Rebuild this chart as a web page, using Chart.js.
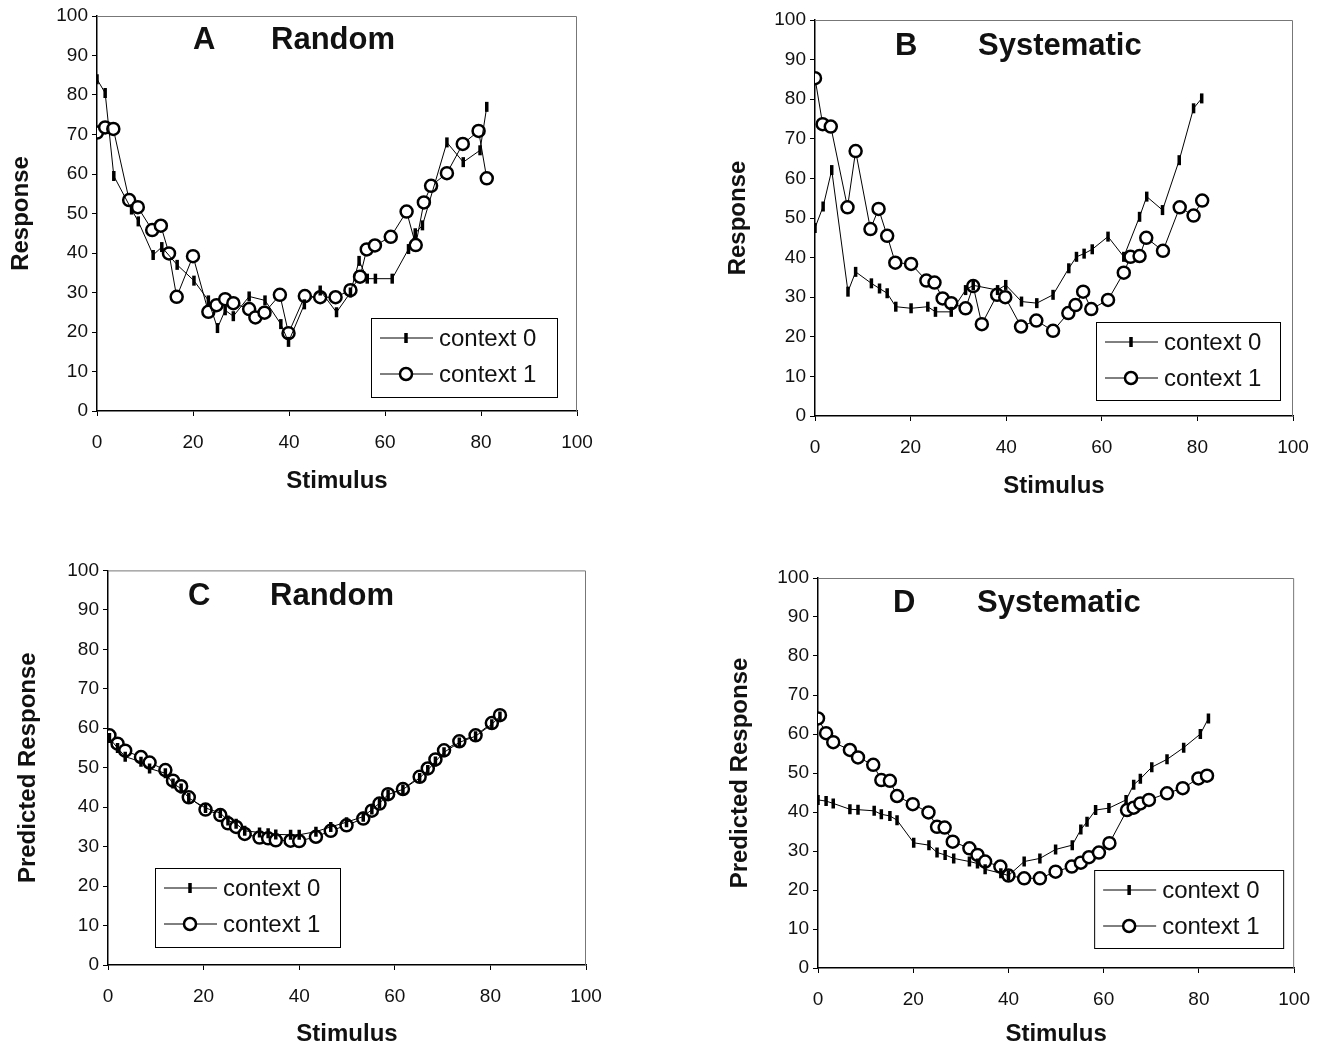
<!DOCTYPE html>
<html>
<head>
<meta charset="utf-8">
<script src="https://cdn.jsdelivr.net/npm/chart.js@4.4.1/dist/chart.umd.min.js"></script>
<style>
  body { margin: 0; background: #fff; }
  .panel { position: absolute; }
</style>
</head>
<body>
<div class="panel" style="left:0px;top:0px"><canvas id="chartA" width="640" height="520"></canvas></div>
<div class="panel" style="left:715px;top:0px"><canvas id="chartB" width="610" height="520"></canvas></div>
<div class="panel" style="left:0px;top:555px"><canvas id="chartC" width="640" height="494"></canvas></div>
<div class="panel" style="left:715px;top:555px"><canvas id="chartD" width="610" height="494"></canvas></div>
<script>
// panel A - Random, observed
const stimA0 = [0, 1.7, 3.5, 7.2, 8.6, 11.7, 13.5, 16.7, 20.2, 23.2, 25.1, 26.7, 28.4, 31.7, 35, 38.3, 39.9, 43.2, 46.5, 49.9, 52.8, 54.6, 56.3, 58, 61.5, 64.9, 66.3, 67.8, 72.9, 76.3, 79.8, 81.2];
const respA0 = [84, 80.5, 59.5, 51, 48, 39.5, 41.5, 37, 33, 28, 21, 25.5, 24, 29, 28, 22, 17.5, 27, 30.5, 25, 30, 38, 33.5, 33.5, 33.5, 41, 45, 47, 68, 63, 66, 77];
const stimA1 = [0, 1.7, 3.4, 6.7, 8.5, 11.5, 13.3, 15, 16.6, 20, 23.2, 24.9, 26.7, 28.4, 31.7, 33, 34.9, 38.1, 39.9, 43.3, 46.5, 49.7, 52.8, 54.8, 56.2, 57.9, 61.2, 64.5, 66.4, 68.1, 69.6, 72.9, 76.2, 79.5, 81.2];
const respA1 = [70.5, 71.8, 71.4, 53.4, 51.6, 45.8, 46.9, 39.9, 28.9, 39.2, 25.1, 26.8, 28.3, 27.3, 25.8, 23.7, 24.9, 29.4, 19.7, 29.1, 28.8, 28.8, 30.6, 34, 40.9, 41.9, 44.1, 50.5, 42, 52.8, 57, 60.2, 67.6, 70.9, 58.9];

// panel B - Systematic, observed
const stimB0 = [0, 1.7, 3.5, 6.9, 8.5, 11.8, 13.5, 15.1, 16.9, 20.1, 23.6, 25.2, 28.5, 31.5, 33.1, 38.2, 39.9, 43.2, 46.4, 49.8, 53.1, 54.7, 56.3, 58, 61.3, 64.6, 67.9, 69.4, 72.7, 76.2, 79.2, 80.9];
const respB0 = [47.5, 52.9, 62.1, 31.4, 36.4, 33.5, 32.2, 31, 27.6, 27.2, 27.6, 26.3, 26.3, 31.8, 33, 31.8, 33.1, 28.9, 28.5, 30.6, 37.3, 40.2, 41, 42.1, 45.3, 40.2, 50.3, 55.4, 52, 64.6, 77.7, 80.2];
const stimB1 = [0, 1.6, 3.3, 6.8, 8.5, 11.6, 13.3, 15.1, 16.8, 20.1, 23.3, 25, 26.7, 28.5, 31.5, 33.1, 34.9, 38.1, 39.8, 43.1, 46.3, 49.8, 53, 54.5, 56.1, 57.8, 61.3, 64.6, 66, 67.9, 69.3, 72.8, 76.3, 79.2, 81];
const respB1 = [85.3, 73.7, 73.1, 52.7, 66.9, 47.2, 52.3, 45.5, 38.7, 38.4, 34.2, 33.7, 29.7, 28.5, 27.2, 32.8, 23.2, 30.6, 30, 22.6, 24.1, 21.5, 26, 28, 31.4, 27, 29.3, 36.2, 40.2, 40.4, 45, 41.7, 52.7, 50.6, 54.4];

// panel C - Random, predicted
const stimC = [0.3, 2, 3.6, 6.9, 8.7, 12, 13.6, 15.3, 16.9, 20.4, 23.5, 25.1, 26.8, 28.6, 31.7, 33.5, 35.1, 38.2, 40, 43.5, 46.6, 49.9, 53.4, 55.2, 56.8, 58.6, 61.7, 65.2, 66.9, 68.5, 70.3, 73.5, 76.9, 80.3, 82];
const respC0 = [57.5, 55, 52.8, 51.5, 49.8, 48.6, 46, 44.7, 42.3, 39.8, 38.5, 36.6, 35.8, 34, 33.6, 33.4, 33.1, 33, 33, 33.8, 35, 36.2, 37.6, 39.4, 41, 43.2, 44.5, 47.4, 49.4, 51.6, 53.9, 56.4, 58, 61, 63];
const respC1 = [58.2, 56.1, 54.3, 52.7, 51.3, 49.4, 46.7, 45.3, 42.5, 39.4, 38, 35.9, 35, 33.2, 32.3, 32.1, 31.6, 31.5, 31.4, 32.5, 34, 35.4, 37.1, 39.1, 40.9, 43.3, 44.6, 47.7, 49.8, 52.1, 54.4, 56.7, 58.2, 61.3, 63.3];

// panel D - Systematic, predicted
const stimD0 = [0, 1.7, 3.2, 6.7, 8.4, 11.8, 13.3, 15.1, 16.6, 20.1, 23.3, 25, 26.7, 28.5, 31.8, 33.5, 35.1, 38.4, 40, 43.3, 46.6, 49.9, 53.4, 55.2, 56.5, 58.3, 61.1, 64.7, 66.3, 67.7, 70.1, 73.3, 76.8, 80.3, 82];
const respD0 = [43.1, 42.8, 42.2, 40.7, 40.6, 40.3, 39.4, 39, 37.9, 32.1, 31.5, 29.6, 29, 28.1, 27.3, 26.8, 25.3, 24.3, 23.7, 27.3, 28.1, 30.4, 31.5, 35.5, 37.5, 40.5, 41, 43.1, 47, 48.5, 51.5, 53.5, 56.5, 60, 64];
const stimD1 = [0, 1.7, 3.2, 6.7, 8.4, 11.6, 13.3, 15.1, 16.6, 19.9, 23.2, 25, 26.6, 28.3, 31.8, 33.5, 35.1, 38.3, 40, 43.3, 46.6, 49.9, 53.3, 55.2, 56.9, 59, 61.2, 64.9, 66.3, 67.7, 69.5, 73.3, 76.6, 79.9, 81.7];
const respD1 = [64, 60.2, 57.9, 55.9, 54, 52.1, 48.2, 48, 44.1, 42, 39.9, 36.2, 36, 32.4, 30.7, 29, 27.3, 26, 23.7, 23, 23, 24.7, 26, 27, 28.4, 29.6, 32, 40.5, 41.1, 42.2, 43.1, 44.8, 46.1, 48.6, 49.3];

const seriesLabels = ['context 0', 'context 1'];
const yTicks = { min: 0, max: 100, step: 10 };
const xTicks = { min: 0, max: 100, step: 20 };

Chart.defaults.font.family = '"Liberation Sans", Arial, sans-serif';
Chart.defaults.color = '#111';

function pts(xs, ys) {
	return xs.map((x, i) => ({ x: x, y: ys[i] }));
}

const barStyle = {
	pointStyle: 'line',
	rotation: 90,
	pointRadius: 5,
	pointBorderWidth: 3.5,
	pointBorderColor: '#000',
	pointBackgroundColor: '#000'
};
const ringStyle = {
	pointStyle: 'circle',
	pointRadius: 6,
	pointBorderWidth: 2.5,
	pointBorderColor: '#000',
	pointBackgroundColor: '#fff'
};

// big letter + condition name inside the plot area
const panelTitle = {
	id: 'panelTitle',
	afterDatasetsDraw(chart, args, opts) {
		const ctx = chart.ctx, a = chart.chartArea;
		ctx.save();
		ctx.font = 'bold 31px "Liberation Sans", Arial, sans-serif';
		ctx.fillStyle = '#111';
		ctx.textBaseline = 'middle';
		ctx.textAlign = 'left';
		ctx.fillText(opts.letter, a.left + opts.letterDx, a.top + opts.dy);
		ctx.fillText(opts.name, a.left + opts.nameDx, a.top + opts.dy);
		ctx.restore();
	}
};

// thin grey frame on top/right of the plot area
const frame = {
	id: 'frame',
	beforeDatasetsDraw(chart) {
		const ctx = chart.ctx, a = chart.chartArea;
		ctx.save();
		ctx.strokeStyle = '#777';
		ctx.lineWidth = 1;
		ctx.beginPath();
		ctx.moveTo(a.left, a.top + 0.5);
		ctx.lineTo(a.right - 0.5, a.top + 0.5);
		ctx.lineTo(a.right - 0.5, a.bottom);
		ctx.stroke();
		ctx.restore();
	}
};

// boxed legend drawn inside the plot area
const legendBox = {
	id: 'legendBox',
	afterDraw(chart, args, opts) {
		const ctx = chart.ctx, a = chart.chartArea;
		const w = opts.w, h = opts.h;
		const left = opts.left !== undefined ? a.left + opts.left : a.right - opts.right - w;
		const top = a.bottom - opts.bottom - h;
		ctx.save();
		ctx.fillStyle = '#fff';
		ctx.fillRect(left, top, w, h);
		ctx.strokeStyle = '#000';
		ctx.lineWidth = 1;
		ctx.strokeRect(left + 0.5, top + 0.5, w, h);
		const rows = [top + 20, top + 56];
		chart.data.datasets.forEach((ds, i) => {
			const y = rows[i];
			ctx.strokeStyle = '#000';
			ctx.lineWidth = 1;
			ctx.beginPath();
			ctx.moveTo(left + 9, y);
			ctx.lineTo(left + 62, y);
			ctx.stroke();
			ctx.strokeStyle = '#000';
			ctx.fillStyle = ds.pointBackgroundColor;
			ctx.lineWidth = ds.pointBorderWidth;
			Chart.helpers.drawPoint(ctx, {
				pointStyle: ds.pointStyle,
				rotation: ds.rotation || 0,
				radius: ds.pointRadius,
				borderWidth: ds.pointBorderWidth
			}, left + 35, y);
			ctx.fillStyle = '#111';
			ctx.font = '24px "Liberation Sans", Arial, sans-serif';
			ctx.textBaseline = 'middle';
			ctx.textAlign = 'left';
			ctx.fillText(ds.label, left + 68, y + 1);
		});
		ctx.restore();
	}
};

function makeChart(id, s0, s1, cfg) {
	const ctx = document.getElementById(id).getContext('2d');
	return new Chart(ctx, {
		type: 'scatter',
		data: {
			datasets: [
				Object.assign({ label: seriesLabels[0], data: s0, showLine: true, borderColor: '#000', borderWidth: 1 }, barStyle),
				Object.assign({ label: seriesLabels[1], data: s1, showLine: true, borderColor: '#000', borderWidth: 1 }, ringStyle)
			]
		},
		plugins: [frame, panelTitle, legendBox],
		options: {
			responsive: false,
			animation: false,
			layout: { padding: { left: 0, top: cfg.padTop, right: cfg.padRight, bottom: 0 } },
			plugins: {
				legend: { display: false },
				tooltip: { enabled: false },
				panelTitle: cfg.title,
				legendBox: cfg.legend
			},
			scales: {
				x: {
					type: 'linear',
					min: xTicks.min,
					max: xTicks.max,
					ticks: { stepSize: xTicks.step, padding: 15, font: { size: 19 }, color: '#111', maxRotation: 0 },
					grid: { display: true, drawOnChartArea: false, drawTicks: true, tickLength: 5, color: '#000' },
					border: { display: true, color: '#000', width: 1.5 },
					title: { display: true, text: 'Stimulus', color: '#111', font: { size: 24, weight: 'bold' }, padding: { top: 0, bottom: cfg.xTitlePad } },
					afterFit: function(scale) { scale.height = cfg.xh; }
				},
				y: {
					min: yTicks.min,
					max: yTicks.max,
					ticks: { stepSize: yTicks.step, padding: 4, font: { size: 19 }, color: '#111' },
					grid: { display: true, drawOnChartArea: false, drawTicks: true, tickLength: 5, color: '#000' },
					border: { display: true, color: '#000', width: 1.5 },
					title: { display: true, text: cfg.yTitle, color: '#111', font: { size: 24, weight: 'bold' }, padding: { top: cfg.yTitlePad, bottom: 0 } },
					afterFit: function(scale) { scale.width = cfg.yw; }
				}
			}
		}
	});
}

makeChart('chartA', pts(stimA0, respA0), pts(stimA1, respA1), {
	padTop: 16, padRight: 63, xh: 109, yw: 97, xTitlePad: 24, yTitlePad: 7,
	yTitle: 'Response',
	title: { letter: 'A', name: 'Random', letterDx: 96, nameDx: 174, dy: 24 },
	legend: { right: 20, bottom: 14, w: 186, h: 79 }
});
makeChart('chartB', pts(stimB0, respB0), pts(stimB1, respB1), {
	padTop: 20, padRight: 32, xh: 104, yw: 100, xTitlePad: 19, yTitlePad: 9,
	yTitle: 'Response',
	title: { letter: 'B', name: 'Systematic', letterDx: 80, nameDx: 163, dy: 26 },
	legend: { right: 13, bottom: 16, w: 184, h: 78 }
});
makeChart('chartC', pts(stimC, respC0), pts(stimC, respC1), {
	padTop: 15, padRight: 54, xh: 84, yw: 108, xTitlePad: 0, yTitlePad: 14,
	yTitle: 'Predicted Response',
	title: { letter: 'C', name: 'Random', letterDx: 80, nameDx: 162, dy: 26 },
	legend: { left: 47, bottom: 18, w: 185, h: 79 }
});
makeChart('chartD', pts(stimD0, respD0), pts(stimD1, respD1), {
	padTop: 23, padRight: 29, xh: 81, yw: 103, xTitlePad: 0, yTitlePad: 11,
	yTitle: 'Predicted Response',
	title: { letter: 'D', name: 'Systematic', letterDx: 75, nameDx: 159, dy: 25 },
	legend: { right: 11, bottom: 20, w: 189, h: 78 }
});
</script>
</body>
</html>
